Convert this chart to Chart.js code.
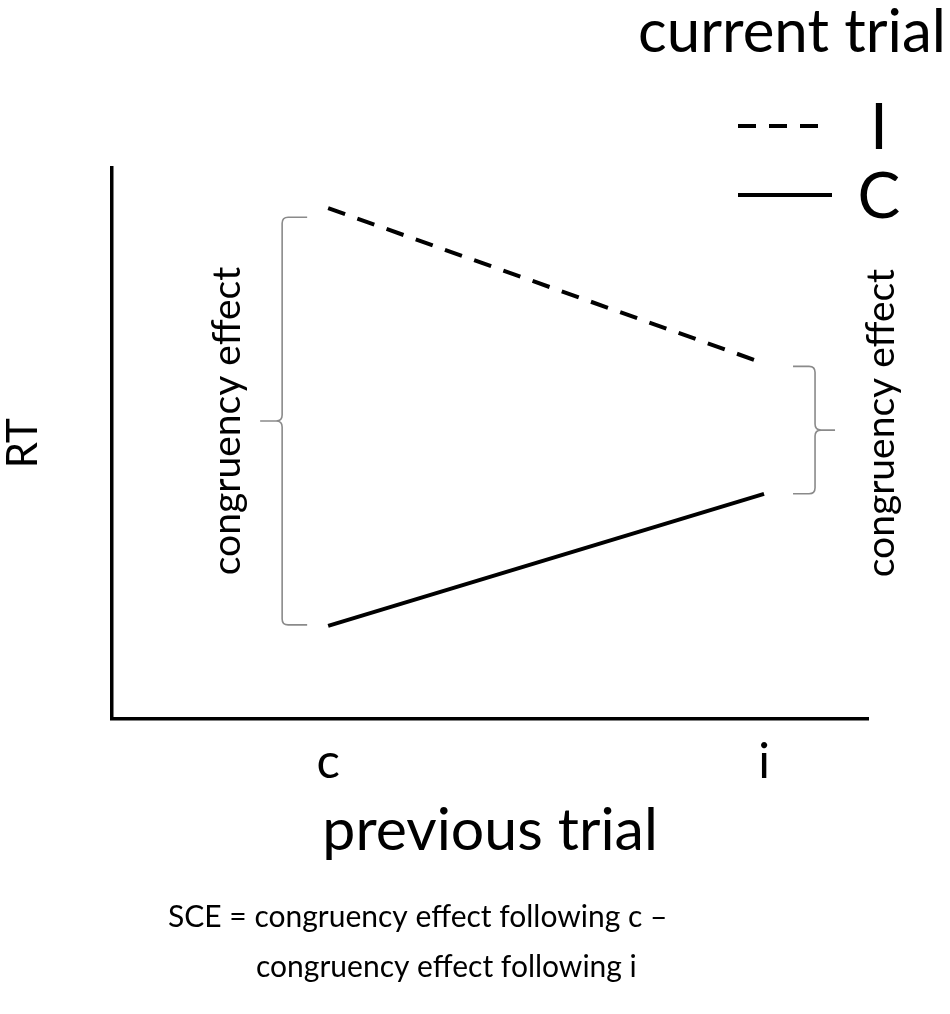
<!DOCTYPE html>
<html>
<head>
<meta charset="utf-8">
<script src="https://cdn.jsdelivr.net/npm/chart.js@4.4.1/dist/chart.umd.min.js"></script>
<style>
html, body { margin: 0; padding: 0; background: #fff; }
#wrap { width: 950px; height: 1014px; }
</style>
</head>
<body>
<div id="wrap"><canvas id="sceChart" width="950" height="1014"></canvas></div>
<script>
// data
const previousTrial = ['c', 'i'];
const previousTrialPos = [1, 2];
const currentTrial = ['I', 'C'];
const rtIncongruent = [92.7, 64.5];
const rtCongruent = [16.8, 40.8];
const legendTitle = 'current trial';
const braceLabel = 'congruency effect';
const noteLines = ['SCE = congruency effect following c \u2013', 'congruency effect following i'];

const FONT = 'Lato, "Open Sans", sans-serif';

function toPoints(values) {
    return values.map((v, i) => ({ x: previousTrialPos[i], y: v }));
}

// curly brace, dir = 1 opens to the right ({), dir = -1 opens to the left (})
function drawBrace(ctx, x, top, bottom, dir, arm, tip) {
    const mid = (top + bottom) / 2;
    const r = 6;
    ctx.beginPath();
    ctx.moveTo(x + dir * arm, top);
    ctx.lineTo(x + dir * r, top);
    ctx.quadraticCurveTo(x, top, x, top + r);
    ctx.lineTo(x, mid - r);
    ctx.quadraticCurveTo(x, mid, x - dir * r, mid);
    ctx.lineTo(x - dir * tip, mid);
    ctx.moveTo(x - dir * r, mid);
    ctx.quadraticCurveTo(x, mid, x, mid + r);
    ctx.lineTo(x, bottom - r);
    ctx.quadraticCurveTo(x, bottom, x + dir * r, bottom);
    ctx.lineTo(x + dir * arm, bottom);
    ctx.stroke();
}

function rotatedText(ctx, text, x, y, size) {
    ctx.save();
    ctx.translate(x, y);
    ctx.rotate(-Math.PI / 2);
    ctx.font = size + 'px ' + FONT;
    ctx.textAlign = 'center';
    ctx.textBaseline = 'middle';
    ctx.fillText(text, 0, 0);
    ctx.restore();
}

const extras = {
    id: 'extras',
    afterDraw(chart) {
        const ctx = chart.ctx;
        const xs = chart.scales.x;
        const ys = chart.scales.y;
        const ds = chart.data.datasets;

        // braces round the congruency effects
        ctx.save();
        ctx.strokeStyle = '#8a8a8a';
        ctx.lineWidth = 1.6;
        const lx = xs.getPixelForValue(previousTrialPos[0]) - 46;
        const lTop = ys.getPixelForValue(rtIncongruent[0]) + 9;
        const lBot = ys.getPixelForValue(rtCongruent[0]) - 1;
        drawBrace(ctx, lx, lTop, lBot, 1, 25, 22);
        const rx = xs.getPixelForValue(previousTrialPos[1]) + 51;
        const rTop = ys.getPixelForValue(rtIncongruent[1]) + 3;
        const rBot = ys.getPixelForValue(rtCongruent[1]);
        drawBrace(ctx, rx, rTop, rBot, -1, 22, 20);
        ctx.restore();

        ctx.save();
        ctx.fillStyle = '#000';
        rotatedText(ctx, braceLabel, lx - 55, (lTop + lBot) / 2, 39);
        rotatedText(ctx, braceLabel, rx + 66, (rTop + rBot) / 2 - 7, 39);

        // legend
        ctx.font = '60px ' + FONT;
        ctx.textAlign = 'right';
        ctx.textBaseline = 'alphabetic';
        ctx.fillText(legendTitle, 946, 52);

        const rows = [126, 195];
        const ends = [820, 832];
        ds.forEach((d, i) => {
            ctx.save();
            ctx.strokeStyle = d.borderColor;
            ctx.lineWidth = d.borderWidth;
            ctx.setLineDash(d.borderDash || []);
            ctx.beginPath();
            ctx.moveTo(738, rows[i]);
            ctx.lineTo(ends[i], rows[i]);
            ctx.stroke();
            ctx.restore();
            ctx.font = '64px ' + FONT;
            ctx.textAlign = 'center';
            ctx.fillText(d.label, 879, rows[i] + 23);
        });

        // note under the chart
        ctx.font = '30px ' + FONT;
        ctx.textAlign = 'left';
        ctx.fillText(noteLines[0], 168, 927);
        ctx.fillText(noteLines[1], 256, 977);
        ctx.restore();
    }
};

new Chart(document.getElementById('sceChart'), {
    type: 'line',
    data: {
        datasets: [{
            label: currentTrial[0],
            data: toPoints(rtIncongruent),
            borderColor: '#000',
            borderWidth: 4,
            borderDash: [18, 13],
            pointRadius: 0,
            fill: false
        }, {
            label: currentTrial[1],
            data: toPoints(rtCongruent),
            borderColor: '#000',
            borderWidth: 4,
            pointRadius: 0,
            fill: false
        }]
    },
    options: {
        responsive: false,
        animation: false,
        layout: {
            padding: { top: 168, right: 82, bottom: 149, left: 0 }
        },
        plugins: {
            legend: { display: false },
            tooltip: { enabled: false }
        },
        scales: {
            x: {
                type: 'linear',
                min: 0.5046,
                max: 2.2385,
                afterBuildTicks: (scale) => {
                    scale.ticks = previousTrialPos.map(v => ({ value: v }));
                },
                ticks: {
                    callback: (value, index) => previousTrial[index],
                    font: { family: FONT, size: 49 },
                    color: '#000',
                    padding: 6
                },
                grid: { display: false },
                border: { display: true, color: '#000', width: 3.5 },
                title: {
                    display: true,
                    text: 'previous trial',
                    font: { family: FONT, size: 59, lineHeight: 1.15 },
                    color: '#000',
                    padding: { top: 0, bottom: 0 }
                }
            },
            y: {
                type: 'linear',
                min: 0,
                max: 100,
                ticks: { display: false },
                grid: { display: false },
                border: { display: true, color: '#000', width: 3.5 },
                title: {
                    display: true,
                    text: 'RT',
                    font: { family: FONT, size: 42, lineHeight: 1.1 },
                    color: '#000',
                    padding: { top: 0, bottom: 58 }
                }
            }
        }
    },
    plugins: [extras]
});
</script>
</body>
</html>
